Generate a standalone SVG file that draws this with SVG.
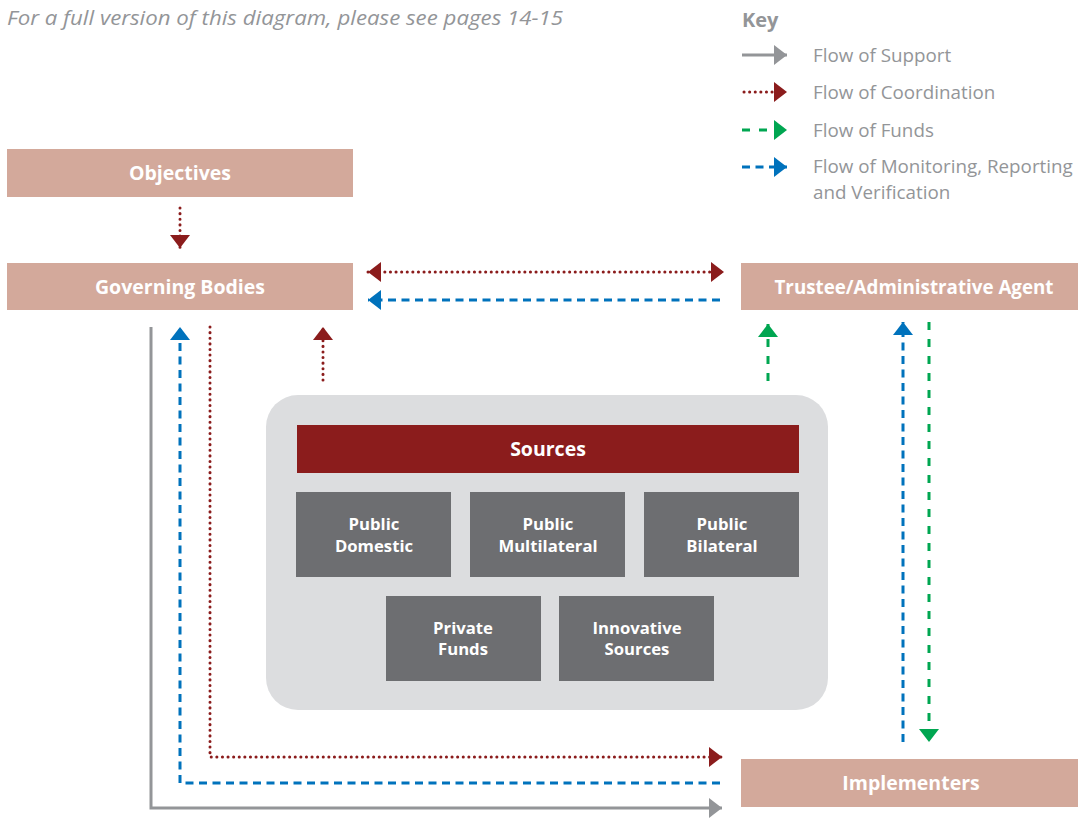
<svg xmlns="http://www.w3.org/2000/svg" width="1078" height="818" viewBox="0 0 1078 818">
<style>
text{font-family:"Open Sans","Noto Sans","Liberation Sans",sans-serif}
.nb{fill:#d3a99b}
.nt{fill:#fff;font-weight:700;font-size:19.5px;text-anchor:middle}
.st{fill:#fff;font-weight:700;font-size:16.7px;text-anchor:middle}
.sb{fill:#6d6e71}
.key{fill:#939598;font-size:18.8px}
.sup{fill:none;stroke:#939598;stroke-width:3}
.coo{fill:none;stroke:#8b1c1c;stroke-width:3;stroke-dasharray:0.1 5.5;stroke-linecap:round}
.fun{fill:none;stroke:#00a651;stroke-width:3;stroke-dasharray:8 9}
.mrv{fill:none;stroke:#0072bc;stroke-width:3;stroke-dasharray:8 5.5}
</style>
<defs>
<marker id="aG" viewBox="0 0 13 20" refX="13" refY="10" markerWidth="13" markerHeight="20" markerUnits="userSpaceOnUse" orient="auto-start-reverse"><path d="M0 0L13 10L0 20Z" fill="#939598"/></marker>
<marker id="aR" viewBox="0 0 13 20" refX="13" refY="10" markerWidth="13" markerHeight="20" markerUnits="userSpaceOnUse" orient="auto-start-reverse"><path d="M0 0L13 10L0 20Z" fill="#8b1c1c"/></marker>
<marker id="aF" viewBox="0 0 13 20" refX="13" refY="10" markerWidth="13" markerHeight="20" markerUnits="userSpaceOnUse" orient="auto-start-reverse"><path d="M0 0L13 10L0 20Z" fill="#00a651"/></marker>
<marker id="aB" viewBox="0 0 13 20" refX="13" refY="10" markerWidth="13" markerHeight="20" markerUnits="userSpaceOnUse" orient="auto-start-reverse"><path d="M0 0L13 10L0 20Z" fill="#0072bc"/></marker>
</defs>

<text x="7" y="25" font-style="italic" font-size="20" fill="#939598" textLength="556" lengthAdjust="spacingAndGlyphs">For a full version of this diagram, please see pages 14-15</text>

<g id="key">
<text x="742" y="27" font-size="20" font-weight="700" fill="#939598">Key</text>
<path class="sup" d="M742 55H787" marker-end="url(#aG)"/>
<path class="coo" d="M744 92H787" marker-end="url(#aR)"/>
<path class="fun" d="M742 130H787" marker-end="url(#aF)"/>
<path class="mrv" d="M742 167H787" marker-end="url(#aB)"/>
<text class="key" x="813" y="62">Flow of Support</text>
<text class="key" x="813" y="99">Flow of Coordination</text>
<text class="key" x="813" y="137">Flow of Funds</text>
<text class="key" x="813" y="173">Flow of Monitoring, Reporting</text>
<text class="key" x="813" y="199">and Verification</text>
</g>

<g id="objectives"><rect class="nb" x="7" y="149" width="346" height="48"/><text class="nt" x="180" y="180">Objectives</text></g>
<g id="governing-bodies"><rect class="nb" x="7" y="263" width="346" height="47"/><text class="nt" x="180" y="294">Governing Bodies</text></g>
<g id="trustee"><rect class="nb" x="741" y="263" width="337" height="47"/><text class="nt" x="914" y="294" textLength="279" lengthAdjust="spacingAndGlyphs">Trustee/Administrative Agent</text></g>
<g id="implementers"><rect class="nb" x="741" y="759" width="337" height="48"/><text class="nt" x="911" y="790">Implementers</text></g>

<g id="sources-group">
<rect x="266" y="395" width="562" height="315" rx="32" fill="#dcdddf"/>
<rect x="297" y="425" width="502" height="48" fill="#8b1c1c"/>
<text class="nt" x="548" y="456">Sources</text>
</g>
<g id="public-domestic"><rect class="sb" x="296" y="492" width="155" height="85"/><text class="st" x="374" y="530">Public</text><text class="st" x="374" y="552">Domestic</text></g>
<g id="public-multilateral"><rect class="sb" x="470" y="492" width="155" height="85"/><text class="st" x="548" y="530">Public</text><text class="st" x="548" y="552">Multilateral</text></g>
<g id="public-bilateral"><rect class="sb" x="644" y="492" width="155" height="85"/><text class="st" x="722" y="530">Public</text><text class="st" x="722" y="552">Bilateral</text></g>
<g id="private-funds"><rect class="sb" x="386" y="596" width="155" height="85"/><text class="st" x="463" y="634">Private</text><text class="st" x="463" y="655">Funds</text></g>
<g id="innovative-sources"><rect class="sb" x="559" y="596" width="155" height="85"/><text class="st" x="637" y="634">Innovative</text><text class="st" x="637" y="655">Sources</text></g>

<g id="connectors">
<path class="coo" d="M180 208V248" marker-end="url(#aR)"/>
<path class="coo" d="M368 272H724" marker-start="url(#aR)" marker-end="url(#aR)"/>
<path class="mrv" d="M720 300H368" marker-end="url(#aB)"/>
<path class="sup" d="M151 327V808H722" marker-end="url(#aG)"/>
<path class="mrv" d="M720 783H180V327" marker-end="url(#aB)"/>
<path class="coo" d="M210 327V757H722" marker-end="url(#aR)"/>
<path class="coo" d="M323 380V327" marker-end="url(#aR)"/>
<path class="fun" d="M768 381V324" marker-end="url(#aF)"/>
<path class="mrv" d="M903 742V322" marker-end="url(#aB)"/>
<path class="fun" d="M929 322V742" marker-end="url(#aF)"/>
</g>
</svg>
